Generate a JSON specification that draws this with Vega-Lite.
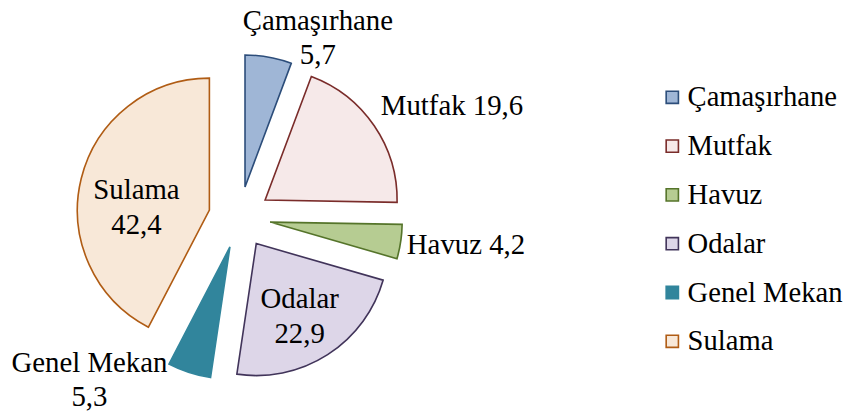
{
  "$schema": "https://vega.github.io/schema/vega-lite/v6.json",
  "width": 848,
  "height": 413,
  "autosize": "none",
  "padding": 0,
  "background": "white",
  "config": {
    "view": {"stroke": null},
    "locale": {"number": {"decimal": ",", "thousands": ".", "grouping": [3], "currency": ["", " TL"]}},
    "text": {"font": "Liberation Serif", "fontSize": 28.8, "lineHeight": 34.5, "align": "center", "baseline": "middle", "color": "black"},
    "legend": {"labelFont": "Liberation Serif", "labelFontSize": 28.6, "labelColor": "black"}
  },
  "data": {
    "values": [
      {"cat": "Çamaşırhane", "value": 5.7},
      {"cat": "Mutfak", "value": 19.6},
      {"cat": "Havuz", "value": 4.2},
      {"cat": "Odalar", "value": 22.9},
      {"cat": "Genel Mekan", "value": 5.3},
      {"cat": "Sulama", "value": 42.4}
    ]
  },
  "transform": [
    {"joinaggregate": [{"op": "sum", "field": "value", "as": "total"}]},
    {"window": [{"op": "sum", "field": "value", "as": "cum"}], "frame": [null, 0]},
    {"calculate": "datum.cum / datum.total", "as": "f1"},
    {"calculate": "(datum.cum - datum.value) / datum.total", "as": "f0"},
    {"calculate": "(datum.f0 + datum.f1) / 2", "as": "fm"},
    {"calculate": "sin(2 * PI * datum.fm)", "as": "ux"},
    {"calculate": "-cos(2 * PI * datum.fm)", "as": "uy"},
    {"calculate": "[datum.cat, format(datum.value, '.1f')]", "as": "label2"},
    {"calculate": "datum.cat + ' ' + format(datum.value, '.1f')", "as": "label1"}
  ],
  "encoding": {
    "x": {"field": "ux", "type": "quantitative", "axis": null, "scale": {"domain": [-1, 1], "range": [208.5, 270.5], "zero": false, "nice": false}},
    "y": {"field": "uy", "type": "quantitative", "axis": null, "scale": {"domain": [-1, 1], "range": [186.5, 248.5], "zero": false, "nice": false}}
  },
  "layer": [
    {
      "mark": {"type": "arc", "radius": 132, "strokeWidth": 1.6, "strokeJoin": "miter"},
      "encoding": {
        "theta": {"field": "f0", "type": "quantitative", "stack": null, "scale": {"domain": [0, 1], "range": [0, 6.283185307179586], "zero": false, "nice": false}},
        "theta2": {"field": "f1"},
        "fill": {
          "field": "cat", "type": "nominal",
          "scale": {"domain": ["Çamaşırhane", "Mutfak", "Havuz", "Odalar", "Genel Mekan", "Sulama"],
                    "range": ["#9fb6d6", "#f6e9e9", "#b6cc92", "#ddd6e8", "#31859c", "#f8e8d8"]},
          "legend": {"title": null, "orient": "none", "legendX": 658, "legendY": 83, "padding": 0,
                     "symbolType": "square", "symbolSize": 150, "symbolStrokeWidth": 1.6,
                     "labelFont": "Liberation Serif", "labelFontSize": 28.6, "labelColor": "black",
                     "labelOffset": 1, "rowPadding": 19.8, "labelLimit": 300}
        },
        "stroke": {
          "field": "cat", "type": "nominal",
          "scale": {"domain": ["Çamaşırhane", "Mutfak", "Havuz", "Odalar", "Genel Mekan", "Sulama"],
                    "range": ["#2c4d7a", "#7a2c2a", "#55742a", "#41345a", "#31859c", "#b05c14"]},
          "legend": {"title": null, "orient": "none", "legendX": 658, "legendY": 83, "padding": 0,
                     "symbolType": "square", "symbolSize": 150, "symbolStrokeWidth": 1.6,
                     "labelFont": "Liberation Serif", "labelFontSize": 28.6, "labelColor": "black",
                     "labelOffset": 1, "rowPadding": 19.8, "labelLimit": 300}
        }
      }
    },
    {
      "transform": [{"filter": "datum.cat == 'Çamaşırhane'"}],
      "mark": {"type": "text", "radius": 162, "dx": 44, "dy": -7},
      "encoding": {
        "theta": {"field": "fm", "type": "quantitative", "stack": null},
        "text": {"field": "label2"}
      }
    },
    {
      "transform": [{"filter": "datum.cat == 'Mutfak'"}],
      "mark": {"type": "text", "radius": 208, "dx": 15, "dy": 23},
      "encoding": {
        "theta": {"field": "fm", "type": "quantitative", "stack": null},
        "text": {"field": "label1"}
      }
    },
    {
      "transform": [{"filter": "datum.cat == 'Havuz'"}],
      "mark": {"type": "text", "radius": 197, "dx": 1, "dy": -6},
      "encoding": {
        "theta": {"field": "fm", "type": "quantitative", "stack": null},
        "text": {"field": "label1"}
      }
    },
    {
      "transform": [{"filter": "datum.cat == 'Odalar'"}],
      "mark": {"type": "text", "radius": 84, "dx": -2, "dy": -15},
      "encoding": {
        "theta": {"field": "fm", "type": "quantitative", "stack": null},
        "text": {"field": "label2"}
      }
    },
    {
      "transform": [{"filter": "datum.cat == 'Genel Mekan'"}],
      "mark": {"type": "text", "radius": 170, "dx": -88, "dy": -46},
      "encoding": {
        "theta": {"field": "fm", "type": "quantitative", "stack": null},
        "text": {"field": "label2"}
      }
    },
    {
      "transform": [{"filter": "datum.cat == 'Sulama'"}],
      "mark": {"type": "text", "radius": 72, "dx": -3, "dy": -3},
      "encoding": {
        "theta": {"field": "fm", "type": "quantitative", "stack": null},
        "text": {"field": "label2"}
      }
    }
  ]
}
